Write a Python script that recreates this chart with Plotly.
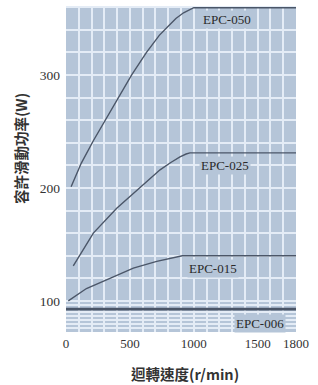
import plotly.graph_objects as go

# ---- data ----
epc050_x = [40, 120, 215, 318, 410, 514, 630, 730, 800, 860, 920, 960, 1000, 1800]
epc050_y = [201, 222, 242, 262, 281, 300, 320, 335, 343, 350, 355, 357.5, 359.5, 359.5]

epc025_x = [57, 214, 397, 579, 736, 820, 892, 940, 970, 1800]
epc025_y = [131, 160, 182, 200, 216, 222.5, 227.5, 230, 231, 231]

epc015_x = [18, 160, 344, 527, 710, 800, 870, 910, 1800]
epc015_y = [100, 111, 120, 129, 135, 137.5, 139.3, 140, 140]

epc006_x = [0, 1800]
epc006_y = [92.7, 92.7]

series_names = ["EPC-050", "EPC-025", "EPC-015", "EPC-006"]
label_x = [1260, 1244, 1150, 1518]
label_y = [349, 220, 129, 80]

x_grid = list(range(0, 1801, 100))
x_labels = {0: "0", 500: "500", 1000: "1000", 1500: "1500", 1800: "1800"}
y_grid = [76, 79.5, 83, 86.5, 90, 96.5] + list(range(100, 361, 20))
y_labels = {100: "100", 200: "200", 300: "300"}

x_title = "迴轉速度(r/min)"
y_title = "容許滑動功率(W)"

# ---- styling ----
BG = "#b5c5d8"
GRID = "#e4ecf6"
LINE = "#4b5668"
TXT = "#333333"
SERIF = "Liberation Serif"
CJK = "Noto Sans CJK TC"

fig = go.Figure()
for xs, ys in [(epc050_x, epc050_y), (epc025_x, epc025_y),
               (epc015_x, epc015_y), (epc006_x, epc006_y)]:
    fig.add_trace(go.Scatter(x=xs, y=ys, mode="lines",
                             line=dict(color=LINE, width=1.4),
                             showlegend=False, hoverinfo="skip", cliponaxis=False))
fig.data[3].line.width = 2.6

for name, lx, ly in zip(series_names, label_x, label_y):
    fig.add_annotation(x=lx, y=ly, xref="x", yref="y", text=name, showarrow=False,
                       font=dict(family=SERIF, size=13, color="#2a2a2a"),
                       bgcolor=BG, borderpad=1)

fig.add_annotation(x=0.517, y=-0.126, xref="paper", yref="paper", text=x_title,
                   xanchor="center", yanchor="middle",
                   showarrow=False, font=dict(family=CJK, size=14.5, color=TXT, weight="bold"))
fig.add_annotation(x=-0.2, y=0.561, xref="paper", yref="paper", text=y_title,
                   xanchor="center", yanchor="middle",
                   textangle=-90, showarrow=False,
                   font=dict(family=CJK, size=14.5, color=TXT, weight="bold"))

fig.update_layout(
    width=318, height=385,
    margin=dict(l=66, r=22, t=6, b=53, autoexpand=False),
    paper_bgcolor="white", plot_bgcolor=BG,
    xaxis=dict(range=[0, 1800], tickmode="array", tickvals=x_grid,
               ticktext=[x_labels.get(v, "") for v in x_grid],
               showgrid=True, gridcolor=GRID, gridwidth=1.5, zeroline=False,
               showline=False, ticks="", ticklabelstandoff=2, automargin=False,
               tickfont=dict(family=SERIF, size=13, color=TXT)),
    yaxis=dict(range=[72.5, 361], tickmode="array", tickvals=y_grid,
               ticktext=[y_labels.get(v, "") for v in y_grid],
               showgrid=True, gridcolor=GRID, gridwidth=1.5, zeroline=False,
               showline=False, ticks="", ticklabelstandoff=5, automargin=False,
               tickfont=dict(family=SERIF, size=13.5, color=TXT)),
)

fig.write_html("out.html", config={"displayModeBar": False},
               post_script="document.body.style.margin='0';document.body.style.overflow='hidden';")
